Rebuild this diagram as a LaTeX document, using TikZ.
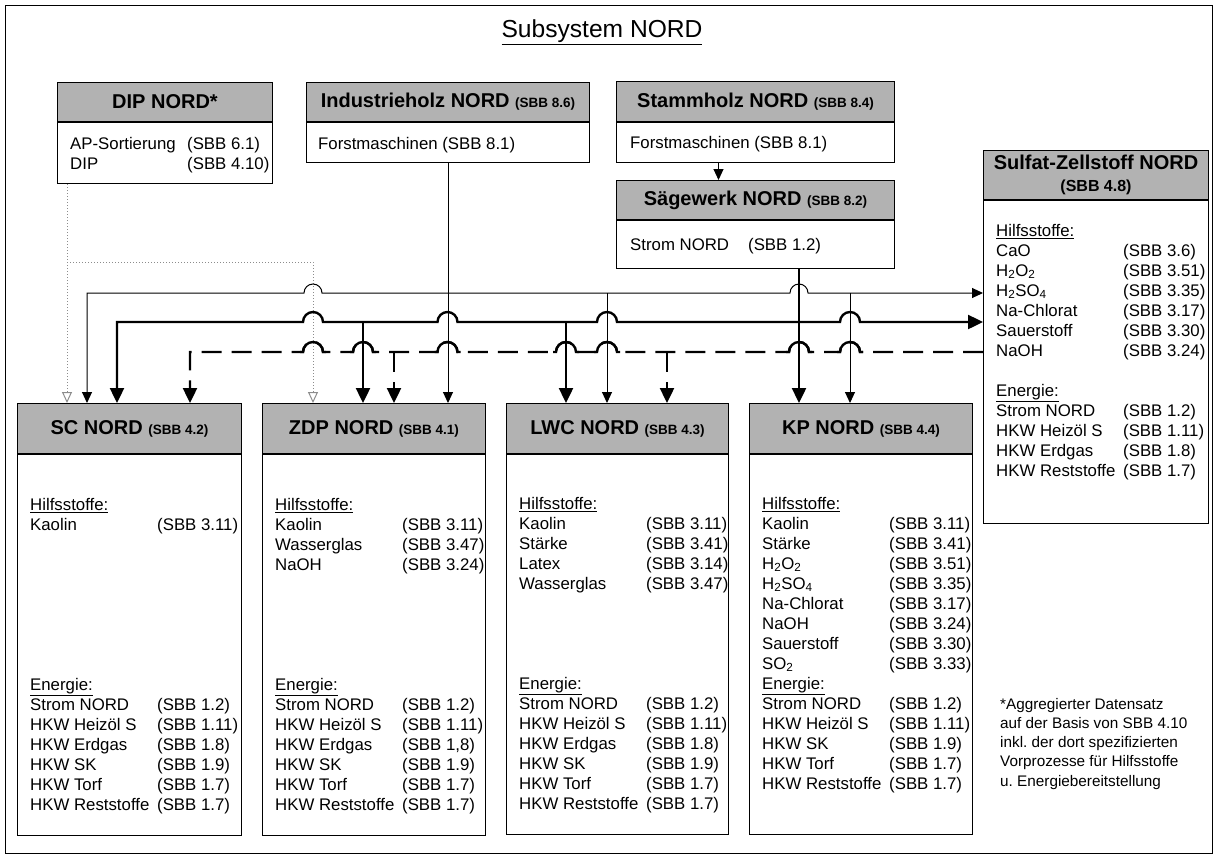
\documentclass[tikz,border=0pt]{standalone}
\usepackage{fontspec}
\setmainfont{Liberation Sans}
\usetikzlibrary{arrows.meta}
\newcommand\sbb[1]{{\fontsize{13.5}{15}\selectfont #1}}
\newcommand\bodyfont{\fontsize{16.8}{20}\selectfont}
\begin{document}
\begin{tikzpicture}[x=1pt,y=-1pt,
    head/.style={draw,line width=1pt,fill=black!30,inner sep=0pt,anchor=north west,align=center,font=\bfseries\fontsize{20}{22}\selectfont},
    body/.style={draw,line width=1pt,fill=white,inner sep=0pt,anchor=north},
    list/.style={inner sep=0pt,anchor=north west,font=\bodyfont},
    holzline/.style={line width=1pt},
    saegline/.style={line width=2.4pt},
    zellline/.style={line width=2.4pt,dash pattern=on 20pt off 10pt},
    dipline/.style={line width=1pt,black!45,dotted},
    tipthin/.style={-{Triangle[length=11pt,width=10pt]}},
    tipthinboth/.style={{Triangle[length=11pt,width=10pt]}-{Triangle[length=11pt,width=10pt]}},
    tipthick/.style={-{Triangle[length=15pt,width=14pt]}},
    tipthickboth/.style={{Triangle[length=15pt,width=14pt]}-{Triangle[length=15pt,width=14pt]}},
    tipopen/.style={-{Triangle[open,length=11pt,width=10pt]}}]
\useasboundingbox (0,0) rectangle (1217,857);
\draw[line width=1pt] (5,5) rectangle (1212,853);
\node[font=\fontsize{24.6}{28}\selectfont] (title) at (602,32) {\underline{Subsystem NORD}};

\node[head,minimum width=215pt,minimum height=39pt] (dipH) at (57,82) {DIP NORD*};
\node[body,minimum width=215pt,minimum height=61pt] (dipB) at (dipH.south) {};
\node[list] (dipL) at (70,135) {\begin{tabular}{@{}p{117pt}@{}l@{}}AP-Sortierung & (SBB 6.1)\\ DIP & (SBB 4.10)\end{tabular}};

\node[head,minimum width=283pt,minimum height=39pt] (ihH) at (306,82) {Industrieholz NORD \sbb{(SBB 8.6)}};
\node[body,minimum width=283pt,minimum height=40pt] (ihB) at (ihH.south) {};
\node[list] (ihL) at (318,135) {\strut Forstmaschinen (SBB 8.1)};

\node[head,minimum width=278pt,minimum height=40pt] (shH) at (616,81) {Stammholz NORD \sbb{(SBB 8.4)}};
\node[body,minimum width=278pt,minimum height=40pt] (shB) at (shH.south) {};
\node[list] (shL) at (630,134) {\strut Forstmaschinen (SBB 8.1)};

\node[head,minimum width=278pt,minimum height=39pt] (sgH) at (616,180) {Sägewerk NORD \sbb{(SBB 8.2)}};
\node[body,minimum width=278pt,minimum height=48pt] (sgB) at (sgH.south) {};
\node[list] (sgL) at (630,236) {\begin{tabular}{@{}p{118pt}@{}l@{}}Strom NORD & (SBB 1.2)\end{tabular}};

\node[head,minimum width=225pt,minimum height=49pt] (sfH) at (983,150) {Sulfat-Zellstoff NORD\\{\fontsize{16}{18}\selectfont (SBB 4.8)}};
\node[body,minimum width=225pt,minimum height=323pt] (sfB) at (sfH.south) {};
\node[list] (sfL) at (996,222) {\begin{tabular}{@{}p{127pt}@{}l@{}}
  \underline{Hilfsstoffe:} & \\
  CaO & (SBB 3.6)\\
  H\textsubscript{2}O\textsubscript{2} & (SBB 3.51)\\
  H\textsubscript{2}SO\textsubscript{4} & (SBB 3.35)\\
  Na-Chlorat & (SBB 3.17)\\
  Sauerstoff & (SBB 3.30)\\
  NaOH & (SBB 3.24)\\[20pt]
  \underline{Energie:} & \\
  Strom NORD & (SBB 1.2)\\
  HKW Heizöl S & (SBB 1.11)\\
  HKW Erdgas & (SBB 1.8)\\
  HKW Reststoffe & (SBB 1.7)\end{tabular}};

\node[head,minimum width=224pt,minimum height=50pt] (scH) at (17,403) {SC NORD \sbb{(SBB 4.2)}};
\node[body,minimum width=224pt,minimum height=381pt] (scB) at (scH.south) {};
\node[list] (scL) at (30,496) {\begin{tabular}{@{}p{127pt}@{}l@{}}
  \underline{Hilfsstoffe:} & \\
  Kaolin & (SBB 3.11)\\[140pt]
  \underline{Energie:} & \\
  Strom NORD & (SBB 1.2)\\
  HKW Heizöl S & (SBB 1.11)\\
  HKW Erdgas & (SBB 1.8)\\
  HKW SK & (SBB 1.9)\\
  HKW Torf & (SBB 1.7)\\
  HKW Reststoffe & (SBB 1.7)\end{tabular}};

\node[head,minimum width=223pt,minimum height=50pt] (zdpH) at (262,403) {ZDP NORD \sbb{(SBB 4.1)}};
\node[body,minimum width=223pt,minimum height=381pt] (zdpB) at (zdpH.south) {};
\node[list] (zdpL) at (275,496) {\begin{tabular}{@{}p{127pt}@{}l@{}}
  \underline{Hilfsstoffe:} & \\
  Kaolin & (SBB 3.11)\\
  Wasserglas & (SBB 3.47)\\
  NaOH & (SBB 3.24)\\[100pt]
  \underline{Energie:} & \\
  Strom NORD & (SBB 1.2)\\
  HKW Heizöl S & (SBB 1.11)\\
  HKW Erdgas & (SBB 1,8)\\
  HKW SK & (SBB 1.9)\\
  HKW Torf & (SBB 1.7)\\
  HKW Reststoffe & (SBB 1.7)\end{tabular}};

\node[head,minimum width=222pt,minimum height=50pt] (lwcH) at (506,403) {LWC NORD \sbb{(SBB 4.3)}};
\node[body,minimum width=222pt,minimum height=380pt] (lwcB) at (lwcH.south) {};
\node[list] (lwcL) at (519,495) {\begin{tabular}{@{}p{127pt}@{}l@{}}
  \underline{Hilfsstoffe:} & \\
  Kaolin & (SBB 3.11)\\
  Stärke & (SBB 3.41)\\
  Latex & (SBB 3.14)\\
  Wasserglas & (SBB 3.47)\\[80pt]
  \underline{Energie:} & \\
  Strom NORD & (SBB 1.2)\\
  HKW Heizöl S & (SBB 1.11)\\
  HKW Erdgas & (SBB 1.8)\\
  HKW SK & (SBB 1.9)\\
  HKW Torf & (SBB 1.7)\\
  HKW Reststoffe & (SBB 1.7)\end{tabular}};

\node[head,minimum width=223pt,minimum height=50pt] (kpH) at (749,403) {KP NORD \sbb{(SBB 4.4)}};
\node[body,minimum width=223pt,minimum height=380pt] (kpB) at (kpH.south) {};
\node[list] (kpL) at (762,495) {\begin{tabular}{@{}p{127pt}@{}l@{}}
  \underline{Hilfsstoffe:} & \\
  Kaolin & (SBB 3.11)\\
  Stärke & (SBB 3.41)\\
  H\textsubscript{2}O\textsubscript{2} & (SBB 3.51)\\
  H\textsubscript{2}SO\textsubscript{4} & (SBB 3.35)\\
  Na-Chlorat & (SBB 3.17)\\
  NaOH & (SBB 3.24)\\
  Sauerstoff & (SBB 3.30)\\
  SO\textsubscript{2} & (SBB 3.33)\\
  \underline{Energie:} & \\
  Strom NORD & (SBB 1.2)\\
  HKW Heizöl S & (SBB 1.11)\\
  HKW SK & (SBB 1.9)\\
  HKW Torf & (SBB 1.7)\\
  HKW Reststoffe & (SBB 1.7)\end{tabular}};

\node[anchor=north west,inner sep=0pt,align=left,font=\fontsize{15.3}{19.2}\selectfont] (note) at (1000,698) {*Aggregierter Datensatz\\auf der Basis von SBB 4.10\\inkl.\ der dort spezifizierten\\Vorprozesse für Hilfsstoffe\\u.\ Energiebereitstellung};

\coordinate (pSC) at (67,262);
\coordinate (pZDP) at (313,262);
\coordinate (hSC) at (87,293);
\coordinate (hLWC) at (607,293);
\coordinate (hKP) at (850,293);
\coordinate (sSC) at (117,322);
\coordinate (sZDP) at (363,322);
\coordinate (sLWC) at (566,322);
\coordinate (sKP) at (799,322);
\coordinate (zSC) at (190,352);
\coordinate (zZDP) at (394,352);
\coordinate (zLWC) at (667,352);

\draw[holzline,tipthin] ([xshift=-37pt]shB.south) -- ([xshift=-37pt]sgH.north);

\draw[dipline,tipopen] (dipB.south -| pSC) -- (scH.north -| pSC);
\draw[dipline,tipopen] (pSC) -- (pZDP) -- (zdpH.north -| pZDP);

\draw[holzline,tipthin] (ihB.south) -- (ihB.south |- zdpH.north);
\draw[holzline,tipthinboth] (scH.north -| hSC) -- (hSC) -- (304,293) arc[start angle=180,end angle=0,radius=9pt]
  -- (790,293) arc[start angle=180,end angle=0,radius=9pt] -- (sfB.west |- hSC);
\draw[holzline,tipthin] (hLWC) -- (lwcH.north -| hLWC);
\draw[holzline,tipthin] (hKP) -- (kpH.north -| hKP);

\draw[line width=1.6pt] (sgB.south -| sKP) -- (sKP);
\draw[saegline,tipthick] (sKP) -- (kpH.north -| sKP);
\draw[saegline,tipthickboth] (scH.north -| sSC) -- (sSC) -- (303,322) arc[start angle=180,end angle=0,radius=10pt]
  -- (437.5,322) arc[start angle=180,end angle=0,radius=10pt]
  -- (597,322) arc[start angle=180,end angle=0,radius=10pt]
  -- (840,322) arc[start angle=180,end angle=0,radius=10pt] -- (sfB.west |- sSC);
\draw[saegline,tipthick] (sZDP) -- (zdpH.north -| sZDP);
\draw[saegline,tipthick] (sLWC) -- (lwcH.north -| sLWC);

\draw[zellline,tipthick] (sfB.west |- zSC) -- (860,352) arc[start angle=0,end angle=180,radius=10pt]
  -- (809,352) arc[start angle=0,end angle=180,radius=10pt]
  -- (617,352) arc[start angle=0,end angle=180,radius=10pt]
  -- (576,352) arc[start angle=0,end angle=180,radius=10pt]
  -- (457.5,352) arc[start angle=0,end angle=180,radius=10pt]
  -- (373,352) arc[start angle=0,end angle=180,radius=10pt]
  -- (323,352) arc[start angle=0,end angle=180,radius=10pt]
  -- (zSC) -- (scH.north -| zSC);
\foreach \x in {313,363,447.5,566,607,799,850}
  \draw[saegline] (\x+13,352) -- (\x+10,352) arc[start angle=0,end angle=180,radius=10pt] -- (\x-13,352);
\draw[zellline,tipthick] (zZDP) -- (zdpH.north -| zZDP);
\draw[zellline,tipthick] (zLWC) -- (lwcH.north -| zLWC);
\end{tikzpicture}
\end{document}
